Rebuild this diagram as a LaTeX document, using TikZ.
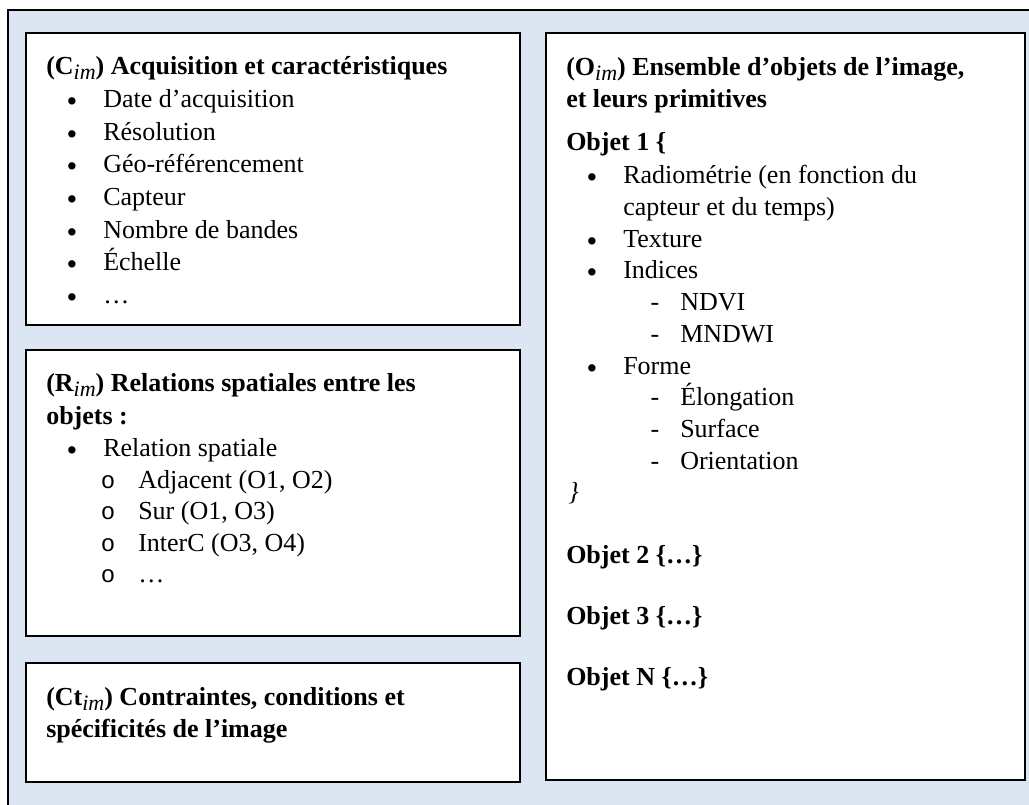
\documentclass[tikz,border=0pt]{standalone}
\usepackage{fontspec}
\setmainfont{Liberation Serif}
\newfontfamily\markfont{Liberation Mono}
\usetikzlibrary{fit}

\definecolor{framebg}{HTML}{DCE6F2}

% italic subscript index, as in C_im
\newcommand{\idx}[1]{\raisebox{-0.2em}{\fontsize{16.5pt}{16.5pt}\selectfont\normalfont\itshape #1}}

\tikzset{
  frame/.style={draw=black, line width=1.5pt, fill=framebg},
  panel/.style={draw=black, line width=1.5pt, fill=white, inner sep=0pt},
  txt/.style={anchor=base west, inner sep=0pt, font=\fontsize{19.5pt}{24pt}\selectfont},
  head/.style={txt, font=\fontsize{19.5pt}{24pt}\selectfont\bfseries},
  dot/.style={anchor=base, inner sep=0pt, yshift=-3pt, font=\fontsize{23pt}{24pt}\selectfont},
  hyph/.style={anchor=base, inner sep=0pt, font=\fontsize{19.5pt}{24pt}\selectfont},
  circ/.style={anchor=base, inner sep=0pt, font=\fontsize{18pt}{24pt}\selectfont\markfont},
}

\begin{document}
\begin{tikzpicture}[x=0.75pt, y=-0.75pt]
\useasboundingbox (0,0) rectangle (1029,804);
\clip (0,0) rectangle (1029,804);

% outer frame, running past the right and bottom edges
\draw[frame] (8,10) rectangle (1045,820);

% panels
\node[panel, fit={(26,33) (520,325)}] (boxC) {};
\node[panel, fit={(26,350) (520,636)}] (boxR) {};
\node[panel, fit={(26,663) (520,782)}] (boxCt) {};
\node[panel, fit={(546,33) (1025,780)}] (boxO) {};

% (C_im) acquisition and characteristics
\node[head] (cH) at (46,74) {(C\idx{im}) Acquisition et caractéristiques};
\foreach \t [count=\i] in {Date d’acquisition, Résolution, Géo-référencement, Capteur, Nombre de bandes, Échelle, …}{
  \node[dot] (cb\i) at (72,{75+32.6*\i}) {•};
  \node[txt] (ct\i) at (103,{75+32.6*\i}) {\t};
}

% (R_im) spatial relations
\node[head] (rH1) at (46,391) {(R\idx{im}) Relations spatiales entre les};
\node[head] (rH2) at (46,424) {objets :};
\node[dot] (rb) at (72,456.5) {•};
\node[txt] (rt) at (103,456.5) {Relation spatiale};
\foreach \t [count=\i] in {{Adjacent (O1, O2)}, {Sur (O1, O3)}, {InterC (O3, O4)}, …}{
  \node[circ] (ro\i) at (108,{456.5+31.6*\i}) {o};
  \node[txt] (rs\i) at (138,{456.5+31.6*\i}) {\t};
}

% (Ct_im) constraints
\node[head] (tH1) at (46,705) {(Ct\idx{im}) Contraintes, conditions et};
\node[head] (tH2) at (46,737.5) {spécificités de l’image};

% (O_im) image objects
\node[head] (oH1) at (566,75) {(O\idx{im}) Ensemble d’objets de l’image,};
\node[head] (oH2) at (566,107.6) {et leurs primitives};
\node[head] (ob1) at (566,150) {Objet 1 \{};

\node[dot] (od1) at (592,183) {•};
\node[txt] (oi1) at (623,183) {Radiométrie (en fonction du};
\node[txt] (oi1b) at (623,215) {capteur et du temps)};
\node[dot] (od2) at (592,247) {•};
\node[txt] (oi2) at (623,247) {Texture};
\node[dot] (od3) at (592,278.5) {•};
\node[txt] (oi3) at (623,278.5) {Indices};
\node[hyph] (oe1) at (655,310) {-};
\node[txt] (os1) at (680,310) {NDVI};
\node[hyph] (oe2) at (655,342) {-};
\node[txt] (os2) at (680,342) {MNDWI};
\node[dot] (od4) at (592,374) {•};
\node[txt] (oi4) at (623,374) {Forme};
\node[hyph] (oe3) at (655,405.5) {-};
\node[txt] (os3) at (680,405.5) {Élongation};
\node[hyph] (oe4) at (655,437) {-};
\node[txt] (os4) at (680,437) {Surface};
\node[hyph] (oe5) at (655,469) {-};
\node[txt] (os5) at (680,469) {Orientation};
\node[txt, font=\fontsize{19.5pt}{24pt}\selectfont\itshape] (oclose) at (568,500) {\}};

\node[head] (ob2) at (566,563) {Objet 2 \{…\}};
\node[head] (ob3) at (566,624) {Objet 3 \{…\}};
\node[head] (obN) at (566,685) {Objet N \{…\}};
\end{tikzpicture}
\end{document}
